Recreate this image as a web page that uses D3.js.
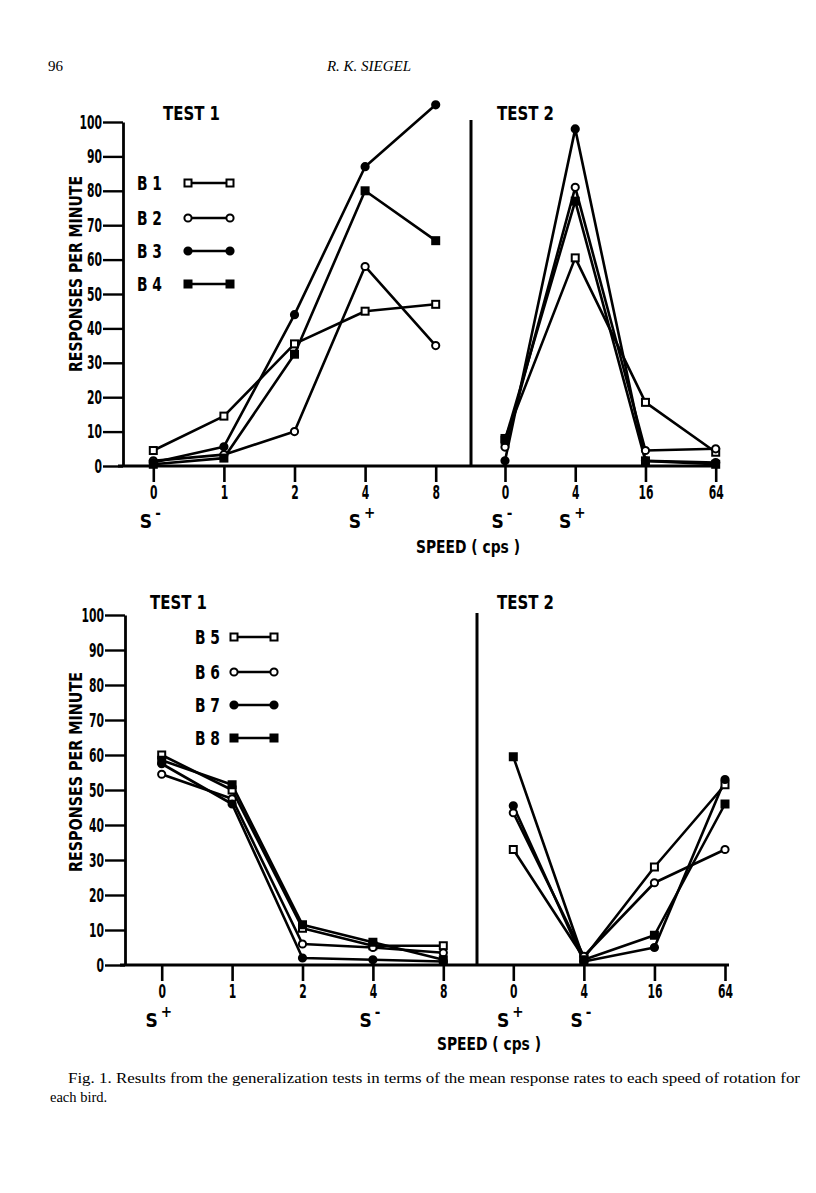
<!DOCTYPE html>
<html><head><meta charset="utf-8">
<script src="https://cdn.jsdelivr.net/npm/d3@7"></script>
<style>
body{margin:0;background:#fff}
.cond{font-family:"Liberation Sans Narrow","DejaVu Sans Condensed","DejaVu Sans",sans-serif;font-weight:bold;}
.serif{font-family:"Liberation Serif","DejaVu Serif",serif;}
</style>
</head><body><svg id="c" width="816" height="1193"></svg>
<script>
// ---------- data ----------
const speedsTest1 = ["0","1","2","4","8"];
const speedsTest2 = ["0","4","16","64"];
const yTicks = [0,10,20,30,40,50,60,70,80,90,100];
const birdsTop = ["B 1","B 2","B 3","B 4"];
const birdsBottom = ["B 5","B 6","B 7","B 8"];
const markerTypes = ["squareOpen","circleOpen","circleFilled","squareFilled"];

const b1Test1 = [4.5, 14.5, 35.5, 45, 47];
const b2Test1 = [1.5, 3.3, 10, 58, 35];
const b3Test1 = [1, 5.6, 44, 87, 105];
const b4Test1 = [0.5, 2.3, 32.5, 80, 65.5];
const b1Test2 = [8, 60.5, 18.5, 4];
const b2Test2 = [5.5, 81, 4.5, 5];
const b3Test2 = [1.5, 98, 1.5, 1];
const b4Test2 = [7.5, 77, 1.5, 0.5];

const b5Test1 = [60, 50, 10.5, 5.5, 5.5];
const b6Test1 = [54.5, 47.5, 6, 5, 3.5];
const b7Test1 = [57.5, 46, 2, 1.5, 1];
const b8Test1 = [58.5, 51.5, 11.5, 6.5, 1.5];
const b5Test2 = [33, 2, 28, 51.5];
const b6Test2 = [43.5, 2.5, 23.5, 33];
const b7Test2 = [45.5, 1, 5, 53];
const b8Test2 = [59.5, 1.5, 8.5, 46];

const stimTopTest1 = ["-","","","+",""];
const stimTopTest2 = ["-","+","",""];
const stimBottomTest1 = ["+","","","-",""];
const stimBottomTest2 = ["+","-","",""];

const yLabel = "RESPONSES PER MINUTE";
const xLabel = "SPEED ( cps )";
const captionLine1 = "Fig. 1. Results from the generalization tests in terms of the mean response rates to each speed of rotation for";
const captionLine2 = "each bird.";

// ---------- drawing ----------
const svg = d3.select("#c");
const LW = 2.6;

function condense(sel, f){
  sel.each(function(){
    const L = this.getComputedTextLength();
    d3.select(this).attr("textLength", L*f).attr("lengthAdjust","spacingAndGlyphs");
  });
}

function marker(g, type, cx, cy){
  const s = 7, r = 3.6;
  if(type.startsWith("square")){
    g.append("rect").attr("x",cx-s/2).attr("y",cy-s/2).attr("width",s).attr("height",s)
      .attr("fill", type==="squareFilled" ? "#000" : "#fff").attr("stroke","#000").attr("stroke-width",2);
  } else {
    g.append("circle").attr("cx",cx).attr("cy",cy).attr("r",r)
      .attr("fill", type==="circleFilled" ? "#000" : "#fff").attr("stroke","#000").attr("stroke-width",2);
  }
}

function drawSeries(g, x, y, cats, series){
  series.forEach((vals) => {
    const line = d3.line().x((d,j)=>x(cats[j])).y(d=>y(d));
    g.append("path").attr("d", line(vals)).attr("fill","none").attr("stroke","#000")
      .attr("stroke-width",LW).attr("stroke-linejoin","round");
  });
  series.forEach((vals, i) => {
    vals.forEach((v,j)=> marker(g, markerTypes[i], x(cats[j]), y(v)));
  });
}

function xAxis(g, x, baseY, stim){
  const ax = d3.axisBottom(x).tickSize(16).tickSizeOuter(0).tickPadding(4);
  const a = g.append("g").attr("transform",`translate(0,${baseY})`).call(ax);
  a.select(".domain").remove();
  a.selectAll(".tick line").attr("stroke","#000").attr("stroke-width",2.6);
  a.selectAll(".tick text").attr("class","cond").attr("font-size",19).attr("fill","#000");
  condense(a.selectAll(".tick text"), 0.63);
  x.domain().forEach((c,i)=>{
    if(!stim[i]) return;
    const t = g.append("text").attr("class","cond").attr("x",x(c)-3).attr("y",baseY+62)
      .attr("text-anchor","middle").attr("font-size",19);
    t.append("tspan").text("S");
    t.append("tspan").attr("dx",3).attr("dy",-10).attr("font-size",15).text(stim[i]==="-"?"-":"+");
  });
}

function yAxis(g, y, axX){
  const ax = d3.axisLeft(y).tickValues(yTicks).tickSize(20).tickSizeOuter(0).tickPadding(1);
  const a = g.append("g").attr("transform",`translate(${axX},0)`).call(ax);
  a.select(".domain").attr("stroke","#000").attr("stroke-width",2.8);
  a.selectAll(".tick line").attr("stroke","#000").attr("stroke-width",2.4);
  a.selectAll(".tick text").attr("class","cond").attr("font-size",19).attr("fill","#000");
  condense(a.selectAll(".tick text"), 0.63);
}

function legend(g, labels, tx, lx1, lx2, ys){
  labels.forEach((lab,i)=>{
    g.append("text").attr("class","cond").attr("x",tx).attr("y",ys[i]+7).attr("font-size",19)
      .attr("textLength",25).attr("lengthAdjust","spacingAndGlyphs").text(lab);
    g.append("line").attr("x1",lx1).attr("x2",lx2).attr("y1",ys[i]).attr("y2",ys[i])
      .attr("stroke","#000").attr("stroke-width",2.4);
    marker(g, markerTypes[i], lx1, ys[i]);
    marker(g, markerTypes[i], lx2, ys[i]);
  });
}

function row(opt){
  const g = svg.append("g");
  const y = d3.scaleLinear().domain([0,100]).range([opt.y0, opt.y100]);
  const x1 = d3.scalePoint().domain(speedsTest1).range(opt.x1r);
  const x2 = d3.scalePoint().domain(speedsTest2).range(opt.x2r);
  g.append("line").attr("x1",opt.axX-5).attr("x2",opt.x2r[1]+4).attr("y1",opt.y0).attr("y2",opt.y0)
    .attr("stroke","#000").attr("stroke-width",2.8);
  g.append("line").attr("x1",opt.divX).attr("x2",opt.divX).attr("y1",opt.y100-2).attr("y2",opt.y0)
    .attr("stroke","#000").attr("stroke-width",3);
  yAxis(g, y, opt.axX);
  xAxis(g, x1, opt.y0, opt.stim1);
  xAxis(g, x2, opt.y0, opt.stim2);
  drawSeries(g, x1, y, speedsTest1, opt.s1);
  drawSeries(g, x2, y, speedsTest2, opt.s2);
  g.append("text").attr("class","cond").attr("x",opt.t1x).attr("y",opt.titleY).attr("font-size",19)
    .attr("textLength",57).attr("lengthAdjust","spacingAndGlyphs").text("TEST 1");
  g.append("text").attr("class","cond").attr("x",opt.t2x).attr("y",opt.titleY).attr("font-size",19)
    .attr("textLength",57).attr("lengthAdjust","spacingAndGlyphs").text("TEST 2");
  g.append("text").attr("class","cond").attr("font-size",17)
    .attr("transform",`translate(${opt.ylx},${opt.ylc}) rotate(-90)`).attr("text-anchor","middle")
    .attr("textLength",opt.ylLen).attr("lengthAdjust","spacingAndGlyphs").text(yLabel);
  g.append("text").attr("class","cond").attr("font-size",18).attr("x",opt.xlx).attr("y",opt.xly)
    .attr("text-anchor","middle").attr("textLength",104).attr("lengthAdjust","spacingAndGlyphs").text(xLabel);
  legend(g, opt.legendLabels, opt.lg.tx, opt.lg.l1, opt.lg.l2, opt.lg.ys);
}

row({y0:466, y100:122, axX:123, divX:471, x1r:[153.3,435.7], x2r:[505,715.7],
  s1:[b1Test1,b2Test1,b3Test1,b4Test1], s2:[b1Test2,b2Test2,b3Test2,b4Test2],
  stim1:stimTopTest1, stim2:stimTopTest2, titleY:120, t1x:163, t2x:497,
  ylx:82, ylc:274, ylLen:196, xlx:468, xly:553,
  legendLabels:birdsTop, lg:{tx:137, l1:188, l2:230, ys:[183,218,251,284]}});

row({y0:965, y100:615, axX:125, divX:477, x1r:[161.7,443.3], x2r:[513.3,725],
  s1:[b5Test1,b6Test1,b7Test1,b8Test1], s2:[b5Test2,b6Test2,b7Test2,b8Test2],
  stim1:stimBottomTest1, stim2:stimBottomTest2, titleY:609, t1x:150, t2x:497,
  ylx:82, ylc:772, ylLen:200, xlx:489, xly:1050,
  legendLabels:birdsBottom, lg:{tx:195, l1:234, l2:274, ys:[637,672,705,738]}});

// header
svg.append("text").attr("class","serif").attr("x",48).attr("y",71).attr("font-size",15).text("96");
svg.append("text").attr("class","serif").attr("x",369).attr("y",71).attr("font-size",15)
  .attr("font-style","italic").attr("text-anchor","middle").text("R. K. SIEGEL");
// caption
svg.append("text").attr("class","serif").attr("x",68).attr("y",1083).attr("font-size",14.5)
  .attr("textLength",732).attr("lengthAdjust","spacingAndGlyphs").text(captionLine1);
svg.append("text").attr("class","serif").attr("x",50).attr("y",1102).attr("font-size",14.5).text(captionLine2);
</script>
</body></html>
